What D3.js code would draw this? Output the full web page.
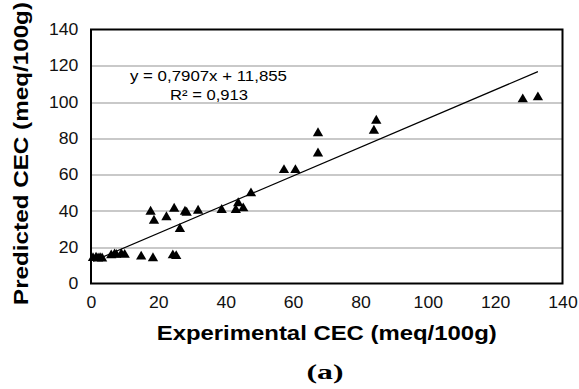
<!DOCTYPE html>
<html>
<head>
<meta charset="utf-8">
<script src="https://cdn.jsdelivr.net/npm/d3@7"></script>
<style>
  body { margin: 0; background: #fff; }
  text { font-family: "Liberation Sans", Arial, sans-serif; }
</style>
</head>
<body>
<div id="chart"></div>
<script>
// experimental vs predicted CEC (meq/100g)
const experimental = [0.6, 1.5, 2.1, 2.7, 3.3, 6.0, 7.0, 7.5, 9.0, 10.0, 14.9, 18.4, 24.3, 25.3,
    17.7, 18.7, 22.4, 24.7, 26.4, 27.9, 28.4, 31.8, 38.8, 43.0, 43.7, 45.2, 47.5,
    57.3, 60.7, 67.4, 67.4, 84.0, 84.7, 128.2, 132.7];
const predicted = [14.0, 14.2, 13.8, 14.0, 13.8, 15.5, 16.0, 15.8, 16.2, 15.8, 14.8, 13.9, 15.5, 15.1,
    39.6, 34.6, 36.5, 41.2, 30.0, 39.6, 39.0, 40.1, 40.5, 40.5, 44.2, 41.4, 49.7,
    62.5, 62.5, 71.7, 82.8, 84.2, 89.7, 101.5, 102.6];
const xTicks = [0, 20, 40, 60, 80, 100, 120, 140];
const yTicks = [0, 20, 40, 60, 80, 100, 120, 140];
const slope = 0.7907;
const intercept = 11.855;
const equationText = "y = 0,7907x + 11,855";
const r2Text = "R² = 0,913";

const totalW = 579, totalH = 389;
const margin = { top: 29.5, right: 16.5, bottom: 105.5, left: 91 };
const width = totalW - margin.left - margin.right;
const height = totalH - margin.top - margin.bottom;

const svg = d3.select("#chart")
    .append("svg")
    .attr("width", totalW)
    .attr("height", totalH);

const g = svg.append("g")
    .attr("transform", `translate(${margin.left}, ${margin.top})`);

const x = d3.scaleLinear().domain([0, 140]).range([0, width]);
const y = d3.scaleLinear().domain([0, 140]).range([height, 0]);

// gridlines
g.selectAll(".grid")
    .data(yTicks.filter(d => d > 0 && d < 140))
    .enter()
    .append("line")
    .attr("class", "grid")
    .attr("x1", 0)
    .attr("x2", width)
    .attr("y1", d => Math.round(y(d)) + 0.5)
    .attr("y2", d => Math.round(y(d)) + 0.5)
    .attr("stroke", "#939393")
    .attr("stroke-width", 1);

// axes (tick labels only), glyphs a bit wide like the original
const xAxis = d3.axisBottom(x).tickValues(xTicks).tickSize(0).tickPadding(13.5);
const yAxis = d3.axisLeft(y).tickValues(yTicks).tickSize(0).tickPadding(12.7);

const gx = g.append("g")
    .attr("transform", `translate(0, ${height})`)
    .call(xAxis);
const gy = g.append("g").call(yAxis);
[gx, gy].forEach(a => {
    a.select(".domain").remove();
    a.selectAll("text")
        .style("font-family", '"Liberation Sans", Arial, sans-serif')
        .style("font-size", "16px")
        .attr("fill", "#111")
        .attr("lengthAdjust", "spacingAndGlyphs")
        .attr("textLength", d => String(d).length * 9.8);
});

// frame
g.append("rect")
    .attr("x", 0)
    .attr("y", 0)
    .attr("width", width)
    .attr("height", height)
    .attr("fill", "none")
    .attr("stroke", "#000")
    .attr("stroke-width", 2);

// trendline
const xMin = d3.min(experimental), xMax = d3.max(experimental);
g.append("line")
    .attr("x1", x(xMin))
    .attr("y1", y(slope * xMin + intercept))
    .attr("x2", x(xMax))
    .attr("y2", y(slope * xMax + intercept))
    .attr("stroke", "#000")
    .attr("stroke-width", 1.2);

// markers
const points = experimental.map((d, i) => ({ x: d, y: predicted[i] }));
g.selectAll(".pt")
    .data(points)
    .enter()
    .append("path")
    .attr("class", "pt")
    .attr("d", d3.symbol().type(d3.symbolTriangle).size(46))
    .attr("transform", d => `translate(${x(d.x)}, ${y(d.y)})`)
    .attr("fill", "#000");

// equation
svg.append("text")
    .attr("x", 130)
    .attr("y", 80.5)
    .style("font-size", "15px")
    .attr("lengthAdjust", "spacingAndGlyphs")
    .attr("textLength", 157)
    .text(equationText);
svg.append("text")
    .attr("x", 170)
    .attr("y", 100)
    .style("font-size", "15px")
    .attr("lengthAdjust", "spacingAndGlyphs")
    .attr("textLength", 78)
    .text(r2Text);

// axis titles
svg.append("text")
    .attr("x", 326.7)
    .attr("y", 339.5)
    .attr("text-anchor", "middle")
    .style("font-size", "20px")
    .style("font-weight", "bold")
    .attr("lengthAdjust", "spacingAndGlyphs")
    .attr("textLength", 340)
    .text("Experimental CEC (meq/100g)");

svg.append("text")
    .attr("transform", "translate(28, 153.5) rotate(-90)")
    .attr("text-anchor", "middle")
    .style("font-size", "21px")
    .style("font-weight", "bold")
    .attr("lengthAdjust", "spacingAndGlyphs")
    .attr("textLength", 303)
    .text("Predicted CEC (meq/100g)");

svg.append("text")
    .attr("x", 325)
    .attr("y", 378.5)
    .attr("text-anchor", "middle")
    .style("font-family", '"Liberation Serif", "Times New Roman", serif')
    .style("font-size", "22px")
    .style("font-weight", "bold")
    .attr("lengthAdjust", "spacingAndGlyphs")
    .attr("textLength", 37)
    .text("(a)");
</script>
</body>
</html>
